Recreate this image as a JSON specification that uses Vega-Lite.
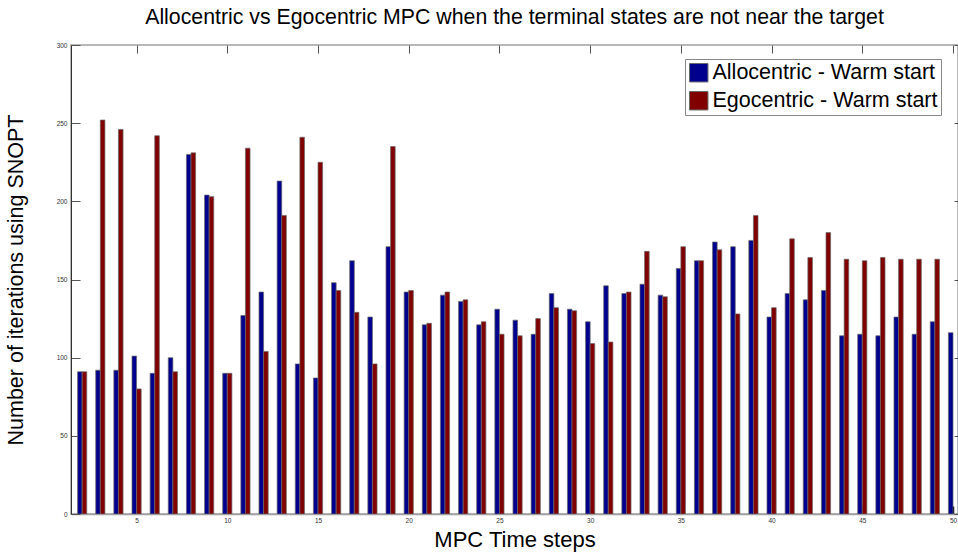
{
  "$schema": "https://vega.github.io/schema/vega-lite/v6.json",
  "width": 887,
  "height": 469,
  "autosize": {"type": "none"},
  "padding": {"left": 71, "top": 45, "right": 0, "bottom": 43},
  "background": "white",
  "title": {
    "text": "Allocentric vs Egocentric MPC when the terminal states are not near the target",
    "font": "Liberation Sans",
    "fontSize": 21.3,
    "fontWeight": "normal",
    "color": "black",
    "anchor": "middle",
    "offset": 14
  },
  "config": {
    "view": {"stroke": "#a0a0a0", "strokeWidth": 1.5},
    "axis": {"grid": false, "labelFont": "Liberation Sans", "titleFont": "Liberation Sans", "titleFontWeight": "normal", "titleColor": "black", "labelColor": "#333"}
  },
  "data": {
    "values": [
      {"step": 2, "series": "Allocentric - Warm start", "iters": 91},
      {"step": 3, "series": "Allocentric - Warm start", "iters": 92},
      {"step": 4, "series": "Allocentric - Warm start", "iters": 92},
      {"step": 5, "series": "Allocentric - Warm start", "iters": 101},
      {"step": 6, "series": "Allocentric - Warm start", "iters": 90},
      {"step": 7, "series": "Allocentric - Warm start", "iters": 100},
      {"step": 8, "series": "Allocentric - Warm start", "iters": 230},
      {"step": 9, "series": "Allocentric - Warm start", "iters": 204},
      {"step": 10, "series": "Allocentric - Warm start", "iters": 90},
      {"step": 11, "series": "Allocentric - Warm start", "iters": 127},
      {"step": 12, "series": "Allocentric - Warm start", "iters": 142},
      {"step": 13, "series": "Allocentric - Warm start", "iters": 213},
      {"step": 14, "series": "Allocentric - Warm start", "iters": 96},
      {"step": 15, "series": "Allocentric - Warm start", "iters": 87},
      {"step": 16, "series": "Allocentric - Warm start", "iters": 148},
      {"step": 17, "series": "Allocentric - Warm start", "iters": 162},
      {"step": 18, "series": "Allocentric - Warm start", "iters": 126},
      {"step": 19, "series": "Allocentric - Warm start", "iters": 171},
      {"step": 20, "series": "Allocentric - Warm start", "iters": 142},
      {"step": 21, "series": "Allocentric - Warm start", "iters": 121},
      {"step": 22, "series": "Allocentric - Warm start", "iters": 140},
      {"step": 23, "series": "Allocentric - Warm start", "iters": 136},
      {"step": 24, "series": "Allocentric - Warm start", "iters": 121},
      {"step": 25, "series": "Allocentric - Warm start", "iters": 131},
      {"step": 26, "series": "Allocentric - Warm start", "iters": 124},
      {"step": 27, "series": "Allocentric - Warm start", "iters": 115},
      {"step": 28, "series": "Allocentric - Warm start", "iters": 141},
      {"step": 29, "series": "Allocentric - Warm start", "iters": 131},
      {"step": 30, "series": "Allocentric - Warm start", "iters": 123},
      {"step": 31, "series": "Allocentric - Warm start", "iters": 146},
      {"step": 32, "series": "Allocentric - Warm start", "iters": 141},
      {"step": 33, "series": "Allocentric - Warm start", "iters": 147},
      {"step": 34, "series": "Allocentric - Warm start", "iters": 140},
      {"step": 35, "series": "Allocentric - Warm start", "iters": 157},
      {"step": 36, "series": "Allocentric - Warm start", "iters": 162},
      {"step": 37, "series": "Allocentric - Warm start", "iters": 174},
      {"step": 38, "series": "Allocentric - Warm start", "iters": 171},
      {"step": 39, "series": "Allocentric - Warm start", "iters": 175},
      {"step": 40, "series": "Allocentric - Warm start", "iters": 126},
      {"step": 41, "series": "Allocentric - Warm start", "iters": 141},
      {"step": 42, "series": "Allocentric - Warm start", "iters": 137},
      {"step": 43, "series": "Allocentric - Warm start", "iters": 143},
      {"step": 44, "series": "Allocentric - Warm start", "iters": 114},
      {"step": 45, "series": "Allocentric - Warm start", "iters": 115},
      {"step": 46, "series": "Allocentric - Warm start", "iters": 114},
      {"step": 47, "series": "Allocentric - Warm start", "iters": 126},
      {"step": 48, "series": "Allocentric - Warm start", "iters": 115},
      {"step": 49, "series": "Allocentric - Warm start", "iters": 123},
      {"step": 50, "series": "Allocentric - Warm start", "iters": 116},
      {"step": 2, "series": "Egocentric - Warm start", "iters": 91},
      {"step": 3, "series": "Egocentric - Warm start", "iters": 252},
      {"step": 4, "series": "Egocentric - Warm start", "iters": 246},
      {"step": 5, "series": "Egocentric - Warm start", "iters": 80},
      {"step": 6, "series": "Egocentric - Warm start", "iters": 242},
      {"step": 7, "series": "Egocentric - Warm start", "iters": 91},
      {"step": 8, "series": "Egocentric - Warm start", "iters": 231},
      {"step": 9, "series": "Egocentric - Warm start", "iters": 203},
      {"step": 10, "series": "Egocentric - Warm start", "iters": 90},
      {"step": 11, "series": "Egocentric - Warm start", "iters": 234},
      {"step": 12, "series": "Egocentric - Warm start", "iters": 104},
      {"step": 13, "series": "Egocentric - Warm start", "iters": 191},
      {"step": 14, "series": "Egocentric - Warm start", "iters": 241},
      {"step": 15, "series": "Egocentric - Warm start", "iters": 225},
      {"step": 16, "series": "Egocentric - Warm start", "iters": 143},
      {"step": 17, "series": "Egocentric - Warm start", "iters": 129},
      {"step": 18, "series": "Egocentric - Warm start", "iters": 96},
      {"step": 19, "series": "Egocentric - Warm start", "iters": 235},
      {"step": 20, "series": "Egocentric - Warm start", "iters": 143},
      {"step": 21, "series": "Egocentric - Warm start", "iters": 122},
      {"step": 22, "series": "Egocentric - Warm start", "iters": 142},
      {"step": 23, "series": "Egocentric - Warm start", "iters": 137},
      {"step": 24, "series": "Egocentric - Warm start", "iters": 123},
      {"step": 25, "series": "Egocentric - Warm start", "iters": 115},
      {"step": 26, "series": "Egocentric - Warm start", "iters": 114},
      {"step": 27, "series": "Egocentric - Warm start", "iters": 125},
      {"step": 28, "series": "Egocentric - Warm start", "iters": 132},
      {"step": 29, "series": "Egocentric - Warm start", "iters": 130},
      {"step": 30, "series": "Egocentric - Warm start", "iters": 109},
      {"step": 31, "series": "Egocentric - Warm start", "iters": 110},
      {"step": 32, "series": "Egocentric - Warm start", "iters": 142},
      {"step": 33, "series": "Egocentric - Warm start", "iters": 168},
      {"step": 34, "series": "Egocentric - Warm start", "iters": 139},
      {"step": 35, "series": "Egocentric - Warm start", "iters": 171},
      {"step": 36, "series": "Egocentric - Warm start", "iters": 162},
      {"step": 37, "series": "Egocentric - Warm start", "iters": 169},
      {"step": 38, "series": "Egocentric - Warm start", "iters": 128},
      {"step": 39, "series": "Egocentric - Warm start", "iters": 191},
      {"step": 40, "series": "Egocentric - Warm start", "iters": 132},
      {"step": 41, "series": "Egocentric - Warm start", "iters": 176},
      {"step": 42, "series": "Egocentric - Warm start", "iters": 164},
      {"step": 43, "series": "Egocentric - Warm start", "iters": 180},
      {"step": 44, "series": "Egocentric - Warm start", "iters": 163},
      {"step": 45, "series": "Egocentric - Warm start", "iters": 162},
      {"step": 46, "series": "Egocentric - Warm start", "iters": 164},
      {"step": 47, "series": "Egocentric - Warm start", "iters": 163},
      {"step": 48, "series": "Egocentric - Warm start", "iters": 163},
      {"step": 49, "series": "Egocentric - Warm start", "iters": 163}
    ]
  },
  "layer": [
    {
      "transform": [{"filter": "datum.series === 'Allocentric - Warm start'"}],
      "mark": {"type": "bar", "width": 4.6, "xOffset": -2.3, "stroke": "#6a6a6a", "strokeWidth": 0.7, "clip": true},
      "encoding": {
        "x": {
          "field": "step", "type": "quantitative",
          "scale": {"domain": [1.66, 50], "nice": false, "zero": false},
          "axis": {
            "orient": "bottom", "values": [5, 10, 15, 20, 25, 30, 35, 40, 45, 50],
            "tickSize": -8, "tickColor": "black", "tickWidth": 1.5,
            "labelFontSize": 6.5, "labelPadding": 11, "labelFlush": false,
            "domainColor": "#a0a0a0", "domainWidth": 1.5,
            "title": "MPC Time steps", "titleFontSize": 22, "titleY": 15
          }
        },
        "y": {
          "field": "iters", "type": "quantitative",
          "scale": {"domain": [0, 300], "nice": false},
          "axis": {
            "orient": "left", "values": [0, 50, 100, 150, 200, 250, 300],
            "tickSize": -9, "tickColor": "#555",
            "labelFontSize": 6.5, "labelPadding": 13, "labelFlush": false,
            "domainColor": "#333", "domainWidth": 1,
            "title": "Number of iterations using SNOPT", "titleFontSize": 21.5, "titleX": -44
          }
        },
        "color": {
          "field": "series", "type": "nominal",
          "scale": {"domain": ["Allocentric - Warm start", "Egocentric - Warm start"], "range": ["#00008f", "#800000"]},
          "legend": {
            "title": null, "orient": "none", "legendX": 614, "legendY": 14,
            "fillColor": "white", "strokeColor": "#888", "padding": 3,
            "symbolType": "square", "symbolSize": 340, "symbolStrokeColor": "#555", "symbolStrokeWidth": 1,
            "labelFont": "Liberation Sans", "labelFontSize": 21.5, "labelColor": "black",
            "labelOffset": 3, "rowPadding": 5, "labelLimit": 400
          }
        }
      }
    },
    {
      "transform": [{"filter": "datum.series === 'Egocentric - Warm start'"}],
      "mark": {"type": "bar", "width": 4.6, "xOffset": 2.3, "stroke": "#6a6a6a", "strokeWidth": 0.7, "clip": true},
      "encoding": {
        "x": {
          "field": "step", "type": "quantitative",
          "axis": {
            "orient": "top", "values": [5, 10, 15, 20, 25, 30, 35, 40, 45, 50],
            "tickSize": -8, "tickColor": "#555", "labels": false, "domain": false, "title": null
          }
        },
        "y": {
          "field": "iters", "type": "quantitative",
          "axis": {
            "orient": "right", "values": [0, 50, 100, 150, 200, 250, 300],
            "tickSize": -4, "tickColor": "#555", "labels": false, "domain": false, "title": null
          }
        },
        "color": {"field": "series", "type": "nominal"}
      }
    }
  ],
  "resolve": {"axis": {"x": "independent", "y": "independent"}}
}
